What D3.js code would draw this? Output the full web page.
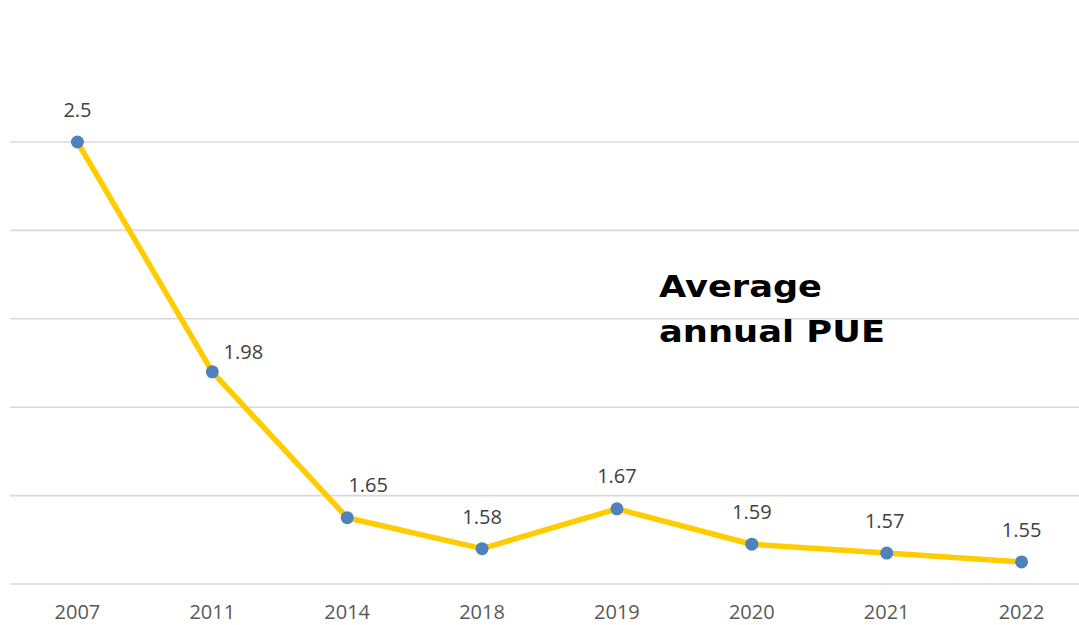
<!DOCTYPE html>
<html><head><meta charset="utf-8">
<script src="https://cdn.jsdelivr.net/npm/d3@7"></script>
<style>body{margin:0;background:#fff}svg{display:block}</style>
</head><body>
<svg id="c" width="1079" height="625"></svg>
<script>
const years = ["2007","2011","2014","2018","2019","2020","2021","2022"];
const pue = [2.5,1.98,1.65,1.58,1.67,1.59,1.57,1.55];
const gridTicks = [1.5,1.7,1.9,2.1,2.3,2.5];
const titleLines = ["Average","annual PUE"];
// label nudges (layout only)
const labelDx = [0,31,21,0,0,0,-2,0];
const labelDy = [-25,-13,-26,-25,-26,-25,-25,-25];

const svg = d3.select("#c");
const x = d3.scaleBand().domain(years).range([10,1089]);
const y = d3.scaleLinear().domain([1.5,2.5]).range([584,142]);
const cx = d => x(d) + x.bandwidth()/2;

svg.append("g").selectAll("line").data(gridTicks).join("line")
  .attr("x1",10).attr("x2",1089)
  .attr("y1",d=>y(d)).attr("y2",d=>y(d))
  .attr("stroke","#d9d9d9").attr("stroke-width",1.6);

const xAxis = svg.append("g").attr("transform","translate(0,584)")
  .call(d3.axisBottom(x).tickSize(0).tickPadding(0));
xAxis.select(".domain").remove();
xAxis.selectAll("text").attr("y",0).attr("dy",null)
  .attr("transform","translate(0,35)")
  .attr("font-family","'Open Sans'").attr("font-size",20).attr("fill","#595959");

const data = years.map((yr,i)=>({yr, v:pue[i], i}));
svg.append("path").datum(data)
  .attr("fill","none").attr("stroke","#FFCC00").attr("stroke-width",5.5)
  .attr("stroke-linejoin","round")
  .attr("d", d3.line().x(d=>cx(d.yr)).y(d=>y(d.v)));

svg.append("g").selectAll("circle").data(data).join("circle")
  .attr("cx",d=>cx(d.yr)).attr("cy",d=>y(d.v)).attr("r",6.5)
  .attr("fill","#4F81BD");

svg.append("g").selectAll("text").data(data).join("text")
  .attr("x",d=>cx(d.yr)+labelDx[d.i]).attr("y",d=>y(d.v)+labelDy[d.i])
  .attr("text-anchor","middle")
  .attr("font-family","'Open Sans'").attr("font-size",20).attr("fill","#404040")
  .text(d=>d.v);

const tw = [163,226];
svg.append("g").selectAll("text").data(titleLines).join("text")
  .attr("x",659).attr("y",(d,i)=>297+i*45)
  .attr("font-family","'DejaVu Sans'").attr("font-weight",700).attr("font-size",30)
  .attr("fill","#000")
  .attr("textLength",(d,i)=>tw[i]).attr("lengthAdjust","spacingAndGlyphs")
  .text(d=>d);
</script>
</body></html>
